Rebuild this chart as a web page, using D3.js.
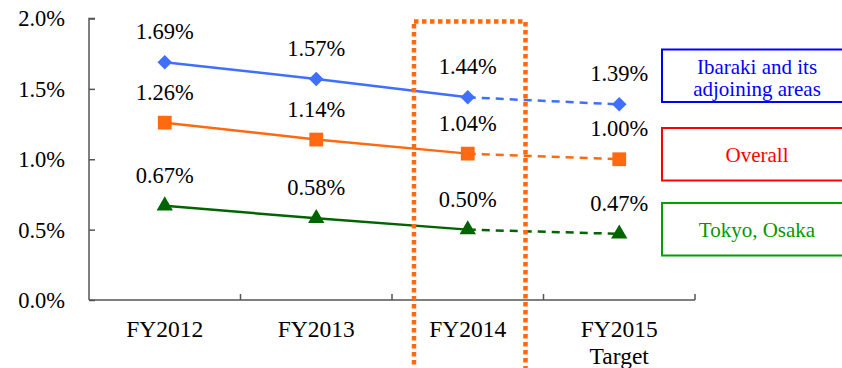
<!DOCTYPE html>
<html>
<head>
<meta charset="utf-8">
<script src="https://cdn.jsdelivr.net/npm/d3@7"></script>
<style>
  body { margin: 0; background: #fff; }
  svg { display: block; font-family: "Liberation Serif", "Times New Roman", serif; }
</style>
</head>
<body>
<svg id="chart"></svg>
<script>
const categories = ["FY2012", "FY2013", "FY2014", "FY2015"];
const categoryLines = [["FY2012"], ["FY2013"], ["FY2014"], ["FY2015", "Target"]];
const ibaraki = [1.69, 1.57, 1.44, 1.39];
const overall = [1.26, 1.14, 1.04, 1.00];
const tokyoOsaka = [0.67, 0.58, 0.50, 0.47];
const yTicks = [0, 0.5, 1.0, 1.5, 2.0];
const legendLabels = [["Ibaraki and its", "adjoining areas"], ["Overall"], ["Tokyo, Osaka"]];
const highlightCategory = "FY2014";

const width = 842, height = 368;
const margin = {top: 18.5, left: 89, right: 147, bottom: 68};

const svg = d3.select("#chart").attr("width", width).attr("height", height);

const x = d3.scaleBand()
  .domain(categories)
  .range([margin.left, width - margin.right]);

const y = d3.scaleLinear()
  .domain([0, 2])
  .range([height - margin.bottom, margin.top]);

// axes
const yAxis = svg.append("g")
  .attr("transform", `translate(${margin.left},0)`)
  .call(d3.axisRight(y).tickValues(yTicks).tickSize(6).tickFormat(""));
yAxis.select(".domain").attr("d", `M6,${y(2)}H0V${y(0)}`);

const xAxis = svg.append("g")
  .attr("transform", `translate(0,${y(0)})`);
xAxis.append("path")
  .attr("d", `M${x.range()[0]},0H${x.range()[1]}`);
xAxis.selectAll("line.tick")
  .data(categories.slice(1).concat(["end"]))
  .join("line")
  .attr("class", "tick")
  .attr("x1", d => d === "end" ? x.range()[1] : x(d))
  .attr("x2", d => d === "end" ? x.range()[1] : x(d))
  .attr("y1", 0).attr("y2", -6);

svg.selectAll(".domain, .tick line, line.tick, g path")
  .attr("stroke", "#555").attr("stroke-width", 1.5).attr("fill", "none");

svg.append("g").selectAll("text")
  .data(yTicks)
  .join("text")
  .attr("x", margin.left - 24)
  .attr("y", d => y(d))
  .attr("dy", "0.35em")
  .attr("text-anchor", "end")
  .attr("font-size", 22.5)
  .text(d => d.toFixed(1) + "%");

const catText = svg.append("g").selectAll("text")
  .data(categories)
  .join("text")
  .attr("text-anchor", "middle")
  .attr("font-size", 23.5)
  .attr("x", d => x(d) + x.bandwidth() / 2);
catText.selectAll("tspan")
  .data((d, i) => categoryLines[i])
  .join("tspan")
  .attr("x", function() { return this.parentNode.getAttribute("x"); })
  .attr("y", (d, j) => y(0) + 37 + j * 27)
  .text(d => d);

// series
const series = [
  {name: "ibaraki", values: ibaraki, color: "#3f6fff", marker: d3.symbolSquare, size: 105, rotate: 45},
  {name: "overall", values: overall, color: "#ff6a10", marker: d3.symbolSquare, size: 190, rotate: 0},
  {name: "tokyo", values: tokyoOsaka, color: "#006400", marker: d3.symbolTriangle, size: 115, rotate: 0}
];

const cx = d => x(d) + x.bandwidth() / 2;
const line = d3.line().x(d => cx(d.cat)).y(d => y(d.v));

series.forEach(s => {
  const pts = categories.map((c, i) => ({cat: c, v: s.values[i]}));
  const g = svg.append("g");
  g.append("path")
    .attr("d", line(pts.slice(0, 3)))
    .attr("fill", "none").attr("stroke", s.color).attr("stroke-width", 2.5);
  g.append("path")
    .attr("d", line(pts.slice(2)))
    .attr("fill", "none").attr("stroke", s.color).attr("stroke-width", 2.5)
    .attr("stroke-dasharray", "8,6");
  g.selectAll("path.marker")
    .data(pts)
    .join("path")
    .attr("class", "marker")
    .attr("transform", d => `translate(${cx(d.cat)},${y(d.v)}) rotate(${s.rotate})`)
    .attr("d", d3.symbol(s.marker, s.size))
    .attr("fill", s.color);
  g.selectAll("text")
    .data(pts)
    .join("text")
    .attr("x", d => cx(d.cat))
    .attr("y", d => y(d.v) - 23)
    .attr("text-anchor", "middle")
    .attr("font-size", 22.5)
    .text(d => d.v.toFixed(2) + "%");
});

// highlight box around FY2014
svg.append("rect")
  .attr("x", x(highlightCategory) + 22)
  .attr("y", y(2) + 3)
  .attr("width", x.bandwidth() - 40)
  .attr("height", height)
  .attr("fill", "none")
  .attr("stroke", "#ff6a10")
  .attr("stroke-width", 4.5)
  .attr("stroke-dasharray", "4.5,3.5");

// legend boxes
const legendColors = [
  {stroke: "#0000ff", text: "#0000ff"},
  {stroke: "#ff0000", text: "#ff0000"},
  {stroke: "#00a000", text: "#009900"}
];
const legendTop = [49.5, 128, 203];
const legend = svg.append("g").selectAll("g")
  .data(legendLabels)
  .join("g")
  .attr("transform", (d, i) => `translate(662,${legendTop[i]})`);
legend.append("rect")
  .attr("width", 200).attr("height", 52.5)
  .attr("fill", "#fff")
  .attr("stroke", (d, i) => legendColors[i].stroke)
  .attr("stroke-width", 2);
legend.append("text")
  .attr("text-anchor", "middle")
  .attr("font-size", 21)
  .attr("fill", (d, i) => legendColors[i].text)
  .selectAll("tspan")
  .data(d => d.map((t, j) => ({t, j, n: d.length})))
  .join("tspan")
  .attr("x", 95)
  .attr("y", d => d.n === 2 ? 24 + d.j * 22 : 34)
  .text(d => d.t);
</script>
</body>
</html>
